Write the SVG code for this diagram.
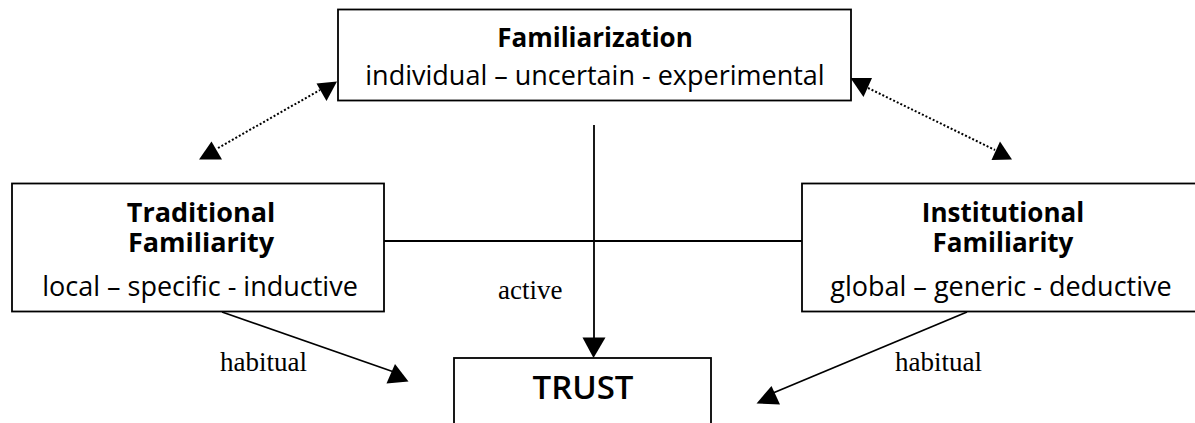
<svg xmlns="http://www.w3.org/2000/svg" width="1195" height="423" viewBox="0 0 1195 423">
<style>
.box{fill:#fff;stroke:#000;stroke-width:1.8}
.ttl{font-family:"Open Sans","Liberation Sans",sans-serif;font-weight:bold;font-size:26px;text-anchor:middle;fill:#000}
.sub{font-family:"Open Sans","Liberation Sans",sans-serif;font-size:27px;text-anchor:middle;fill:#000}
.lbl{font-family:"Liberation Serif","Times New Roman",serif;font-size:27px;fill:#000}
.ln{stroke:#000;stroke-width:1.8;fill:none}
.dot{stroke:#000;stroke-width:2;stroke-dasharray:2 2;fill:none}
.ah{fill:#000;stroke:none}
</style>
<rect width="1195" height="423" fill="#fff"/>
<g id="connectors">
<line class="dot" x1="218" y1="148" x2="320" y2="90"/>
<polygon class="ah" points="199,159.5 222,159.5 211.5,141.5"/>
<polygon class="ah" points="316.5,83.5 337,81.5 326.5,101"/>
<line class="dot" x1="868" y1="88" x2="995" y2="150"/>
<polygon class="ah" points="850.5,78 872,78 863.5,97"/>
<polygon class="ah" points="991.5,160 1012,159.5 1000,141.5"/>
<line class="ln" x1="384" y1="241" x2="802" y2="241"/>
<line class="ln" x1="594" y1="125" x2="594" y2="340"/>
<polygon class="ah" points="582.5,337.5 605.5,337.5 593.5,358"/>
<line class="ln" x1="222" y1="312" x2="394" y2="372"/>
<polygon class="ah" points="386.5,383.5 408.5,381.5 395,364"/>
<line class="ln" x1="967" y1="312" x2="773" y2="393"/>
<polygon class="ah" points="756.5,403.5 780,404.5 771.5,386"/>
<text class="lbl" x="498" y="299">active</text>
<text class="lbl" x="220" y="371">habitual</text>
<text class="lbl" x="895" y="371">habitual</text>
</g>
<g id="familiarization">
<rect class="box" x="338" y="9.5" width="513" height="91"/>
<text class="ttl" x="595" y="47">Familiarization</text>
<text class="sub" x="595" y="85">individual – uncertain - experimental</text>
</g>
<g id="traditional">
<rect class="box" x="12" y="183.5" width="372" height="128"/>
<text class="ttl" x="201" y="222" style="font-size:27px">Traditional</text>
<text class="ttl" x="201" y="252" style="font-size:27px">Familiarity</text>
<text class="sub" x="200" y="296">local – specific - inductive</text>
</g>
<g id="institutional">
<rect class="box" x="802" y="183.5" width="400" height="128"/>
<text class="ttl" x="1003" y="222">Institutional</text>
<text class="ttl" x="1003" y="252">Familiarity</text>
<text class="sub" x="1001" y="296">global – generic - deductive</text>
</g>
<g id="trust">
<rect class="box" x="454" y="358" width="257" height="80"/>
<text class="ttl" x="583" y="399" style="font-weight:600;font-size:33px">TRUST</text>
</g>
</svg>
